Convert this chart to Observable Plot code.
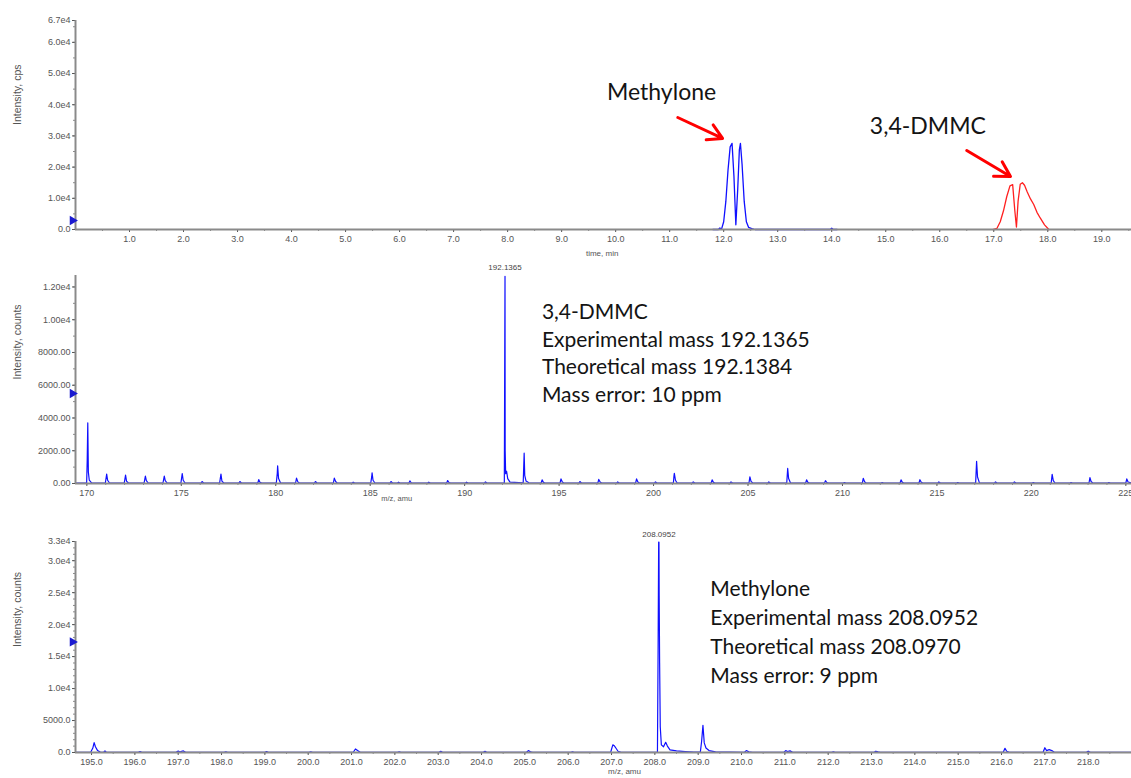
<!DOCTYPE html>
<html><head><meta charset="utf-8">
<script src="https://cdn.jsdelivr.net/npm/d3@7"></script>
<script src="https://cdn.jsdelivr.net/npm/@observablehq/plot@0.6"></script>
<style>
body{margin:0;background:#fff;}
#chart svg{display:block;}
</style></head><body><div id="chart"></div>
<script>
// ---------- Panel 1: extracted ion chromatogram ----------
const methyloneTime = [11.80, 11.90, 11.93, 11.96, 12.00, 12.04, 12.08, 12.12, 12.155, 12.19, 12.225, 12.26, 12.29, 12.31, 12.34, 12.38, 12.42, 12.46, 12.52, 12.58, 13.90, 13.97, 14.00, 14.03, 14.10];
const methyloneIntensity = [0, 0, 500, 100, 2500, 9000, 19000, 26500, 27600, 17000, 1500, 13000, 25500, 27600, 21000, 9000, 2500, 700, 300, 0, 0, 0, 400, 0, 0];
const dmmcTime = [16.98, 17.06, 17.12, 17.18, 17.24, 17.30, 17.35, 17.39, 17.42, 17.45, 17.49, 17.53, 17.57, 17.62, 17.68, 17.74, 17.80, 17.86, 17.94, 18.02];
const dmmcIntensity = [0, 400, 2500, 6000, 10500, 14000, 14400, 6000, 800, 9000, 14500, 15000, 14200, 12000, 9800, 8000, 5500, 3700, 1500, 0];
const timeTicks = [1,2,3,4,5,6,7,8,9,10,11,12,13,14,15,16,17,18,19];
const cpsTicks = [0, 10000, 20000, 30000, 40000, 50000, 60000, 67000];
const cpsTickLabels = ["0.0","1.0e4","2.0e4","3.0e4","4.0e4","5.0e4","6.0e4","6.7e4"];

// ---------- Panel 2: 3,4-DMMC mass spectrum (m/z, intensity) ----------
const dmmcSpectrum = [
[169.40,20],[169.99,20],[170.02,1400],[170.05,3700],[170.08,700],[170.13,200],[170.25,40],
[170.98,30],[171.05,570],[171.10,200],[171.20,30],
[171.98,30],[172.05,510],[172.10,150],[172.20,30],
[173.03,30],[173.10,450],[173.15,180],[173.25,30],
[174.03,30],[174.10,450],[174.15,180],[174.25,30],
[174.98,30],[175.05,610],[175.10,200],[175.20,30],
[176.05,30],[176.10,120],[176.18,30],
[177.03,30],[177.07,350],[177.10,570],[177.15,150],[177.25,30],
[178.05,30],[178.10,120],[178.18,30],
[179.05,30],[179.10,240],[179.15,90],[179.25,30],
[180.03,30],[180.08,600],[180.10,1080],[180.15,300],[180.25,40],
[181.05,30],[181.10,330],[181.17,100],[181.25,30],
[182.05,30],[182.10,120],[182.18,30],
[183.05,30],[183.10,330],[183.17,120],[183.25,30],
[184.05,30],[184.10,80],[184.18,30],
[185.03,30],[185.08,400],[185.10,650],[185.15,200],[185.25,30],
[186.05,30],[186.10,120],[186.18,30],
[186.45,30],[186.50,80],[186.57,30],
[187.05,30],[187.10,160],[187.18,30],
[188.05,30],[188.10,80],[188.18,30],
[189.05,30],[189.10,180],[189.17,60],[189.25,30],
[190.05,30],[190.10,80],[190.18,30],
[191.05,30],[191.10,100],[191.18,30],
[192.10,30],[192.125,8900],[192.1365,12650],[192.145,2000],[192.17,600],[192.22,750],[192.28,300],[192.40,80],
[193.10,40],[193.15,1850],[193.18,500],[193.25,150],[193.40,40],
[194.05,30],[194.10,220],[194.17,70],[194.25,30],
[195.05,30],[195.10,280],[195.17,90],[195.25,30],
[196.05,30],[196.10,120],[196.18,30],
[197.05,30],[197.10,250],[197.17,90],[197.25,30],
[198.05,30],[198.10,100],[198.18,30],
[199.05,30],[199.10,280],[199.17,90],[199.25,30],
[200.05,30],[200.10,100],[200.18,30],
[201.05,30],[201.08,450],[201.10,620],[201.16,200],[201.25,30],
[202.05,30],[202.10,100],[202.18,30],
[203.05,30],[203.10,220],[203.17,70],[203.25,30],
[204.05,30],[204.10,100],[204.18,30],
[205.05,30],[205.10,400],[205.16,130],[205.25,30],
[206.05,30],[206.10,100],[206.18,30],
[207.05,30],[207.10,920],[207.15,300],[207.25,30],
[208.05,30],[208.10,220],[208.17,70],[208.25,30],
[209.05,30],[209.10,170],[209.17,60],[209.25,30],
[210.05,30],[210.10,60],[210.18,30],
[211.05,30],[211.10,320],[211.17,110],[211.25,30],
[212.05,30],[212.10,60],[212.18,30],
[213.05,30],[213.10,220],[213.17,70],[213.25,30],
[214.05,30],[214.10,230],[214.17,80],[214.25,30],
[215.05,30],[215.10,100],[215.18,30],
[216.05,30],[216.10,60],[216.18,30],
[217.05,30],[217.10,1350],[217.15,400],[217.25,40],
[218.05,30],[218.10,100],[218.18,30],
[219.05,30],[219.10,100],[219.18,30],
[220.05,30],[220.10,60],[220.18,30],
[221.05,30],[221.10,560],[221.16,180],[221.25,30],
[222.05,30],[222.10,60],[222.18,30],
[223.05,30],[223.10,360],[223.16,120],[223.25,30],
[224.05,30],[224.10,60],[224.18,30],
[225.00,30],[225.05,280],[225.12,90],[225.30,30]
];
const mz1Ticks = [170,175,180,185,190,195,200,205,210,215,220,225];
const counts1Ticks = [0,2000,4000,6000,8000,10000,12000];
const counts1TickLabels = ["0.00","2000.00","4000.00","6000.00","8000.00","1.00e4","1.20e4"];

// ---------- Panel 3: Methylone mass spectrum (m/z, intensity) ----------
const methyloneSpectrum = [
[194.63,40],[194.98,40],[195.03,700],[195.06,1550],[195.09,900],[195.14,300],[195.20,60],[195.28,40],[195.31,250],[195.34,40],
[196.08,40],[196.12,150],[196.16,40],
[196.95,40],[197.00,220],[197.04,60],[197.08,200],[197.12,250],[197.17,40],
[198.06,40],[198.10,120],[198.14,40],
[199.00,40],[199.04,150],[199.08,40],
[200.02,40],[200.06,120],[200.10,40],
[201.04,40],[201.09,550],[201.14,300],[201.20,40],
[202.06,40],[202.10,120],[202.14,40],
[203.02,40],[203.06,180],[203.10,40],
[204.04,40],[204.08,180],[204.12,40],
[205.04,40],[205.08,300],[205.13,100],[205.18,40],
[206.06,40],[206.10,100],[206.14,40],
[206.98,40],[207.03,1200],[207.07,1000],[207.10,700],[207.15,200],[207.22,40],
[208.06,40],[208.075,16000],[208.088,32900],[208.0952,32900],[208.10,24500],[208.11,14000],[208.125,4000],[208.15,1200],[208.20,900],[208.25,1600],[208.29,1000],[208.35,400],[208.50,250],[208.70,150],[208.90,80],
[209.05,60],[209.08,1800],[209.11,4250],[209.14,1500],[209.18,700],[209.25,300],[209.40,100],
[210.07,40],[210.11,300],[210.17,100],[210.25,40],
[210.98,40],[211.02,300],[211.06,150],[211.12,250],[211.18,40],
[212.08,40],[212.12,120],[212.16,40],
[213.06,40],[213.10,200],[213.15,100],[213.20,40],
[216.04,40],[216.08,650],[216.12,200],[216.18,40],
[216.96,40],[217.00,750],[217.04,300],[217.10,450],[217.16,300],[217.22,40],
[217.96,40],[218.00,200],[218.05,40],[219.00,40]
];
const mz2Ticks = [195,196,197,198,199,200,201,202,203,204,205,206,207,208,209,210,211,212,213,214,215,216,217,218];
const counts2Ticks = [0,5000,10000,15000,20000,25000,30000,33000];
const counts2TickLabels = ["0.0","5000.0","1.0e4","1.5e4","2.0e4","2.5e4","3.0e4","3.3e4"];

// annotations
const dmmcInfo = ["3,4-DMMC","Experimental mass 192.1365","Theoretical mass 192.1384","Mass error: 10 ppm"];
const methyloneInfo = ["Methylone","Experimental mass 208.0952","Theoretical mass 208.0970","Mass error: 9 ppm"];
const cursorLevels = [2900, 5500, 17300];

const AXIS = "#8a8a8a", TXT = "#555", BLUE = "#1010ff";
const W = 1131;

function range(a, b, s) { const r = []; for (let v = a; v <= b + 1e-9; v += s) r.push(+v.toFixed(4)); return r; }

function axes(xDomain, xTicks, xFmt, xMinor, yTicks, yLabels, yMinor, yLabel, cursor) {
  const yMap = new Map(yTicks.map((v, i) => [v, yLabels[i]]));
  return [
    Plot.axisX(xMinor, {tickSize: 2, tickFormat: () => "", color: AXIS, label: null}),
    Plot.axisX(xTicks, {tickSize: 3, tickPadding: 3, tickFormat: xFmt, color: TXT, fontSize: 9, label: null}),
    Plot.axisY(yMinor, {tickSize: 2, tickFormat: () => "", color: AXIS, label: null}),
    Plot.axisY(yTicks, {tickSize: 3, tickPadding: 2, tickFormat: d => yMap.get(d), color: TXT, fontSize: 9, label: null}),
    Plot.ruleY([0], {stroke: AXIS, strokeWidth: 2}),
    Plot.ruleX([xDomain[0]], {stroke: AXIS, strokeWidth: 2}),
    Plot.text([yLabel], {frameAnchor: "left", dx: -58, rotate: -90, fontSize: 10.5, fill: TXT}),
    Plot.dot([cursor], {x: () => xDomain[0], y: d => d, symbol: "triangle", r: 3.5, rotate: 90, fill: "#1a1ad0", dx: -3})
  ];
}

const style = {fontFamily: "Liberation Sans, Arial, sans-serif", fontSize: "9px", background: "white", overflow: "visible"};
const annFont = "Lato, 'Open Sans', sans-serif";

// Panel 1
const xd1 = [0, 19.55];
const p1 = Plot.plot({
  width: W, height: 262, marginLeft: 75, marginRight: 0, marginTop: 20, marginBottom: 33, style,
  x: {domain: xd1}, y: {domain: [0, 67000]},
  marks: [
    Plot.line(methyloneTime.map((t, i) => ({t, v: methyloneIntensity[i]})), {x: "t", y: "v", stroke: BLUE, strokeWidth: 1.3}),
    Plot.line(dmmcTime.map((t, i) => ({t, v: dmmcIntensity[i]})), {x: "t", y: "v", stroke: "#ff2020", strokeWidth: 1.3}),
    ...axes(xd1, timeTicks, d => d.toFixed(1), range(0.5, 19.5, 0.5), cpsTicks, cpsTickLabels, range(0, 65000, 5000), "Intensity, cps", cursorLevels[0]),
    Plot.text(["time, min"], {x: 9.75, frameAnchor: "bottom", dy: 26, fontSize: 8, fill: TXT}),
    Plot.text(["Methylone"], {x: 10.85, y: 43900, fontSize: 23, fontFamily: annFont, fill: "#141414"}),
    Plot.text(["3,4-DMMC"], {x: 15.78, y: 33000, fontSize: 23, fontFamily: annFont, fill: "#141414"}),
    Plot.arrow([{x1: 11.15, y1: 35900, x2: 11.98, y2: 29200}, {x1: 16.50, y1: 25300, x2: 17.31, y2: 17000}],
      {x1: "x1", y1: "y1", x2: "x2", y2: "y2", stroke: "#ff0000", strokeWidth: 3, headLength: 11})
  ]
});

// Panel 2
const xd2 = [169.4, 225.3];
const p2 = Plot.plot({
  width: W, height: 247, marginLeft: 75, marginRight: 0, marginTop: 13, marginBottom: 26, style,
  x: {domain: xd2}, y: {domain: [0, 12700]},
  marks: [
    Plot.line(dmmcSpectrum, {x: d => d[0], y: d => d[1], stroke: BLUE, strokeWidth: 1.2}),
    ...axes(xd2, mz1Ticks, d => String(d), range(170, 225, 1), counts1Ticks, counts1TickLabels, range(0, 12000, 1000), "Intensity, counts", cursorLevels[1]),
    Plot.text(["m/z, amu"], {x: 186.4, frameAnchor: "bottom", dy: 17, fontSize: 7.5, fill: TXT}),
    Plot.text(["192.1365"], {x: 192.1365, y: 12650, dy: -9, fontSize: 8, fill: "#444"}),
    Plot.text([dmmcInfo.join("\n")], {x: 194.09, y: 11280, textAnchor: "start", lineAnchor: "top", fontSize: 21, lineHeight: 1.33, fontFamily: annFont, fill: "#141414"})
  ]
});

// Panel 3
const xd3 = [194.63, 219.0];
const p3 = Plot.plot({
  width: W, height: 269, marginLeft: 75, marginRight: 0, marginTop: 32, marginBottom: 26, style,
  x: {domain: xd3}, y: {domain: [0, 33000]},
  marks: [
    Plot.line(methyloneSpectrum, {x: d => d[0], y: d => d[1], stroke: BLUE, strokeWidth: 1.2}),
    ...axes(xd3, mz2Ticks, d => d.toFixed(1), range(195.5, 218.5, 0.5), counts2Ticks, counts2TickLabels, range(0, 33000, 1000), "Intensity, counts", cursorLevels[2]),
    Plot.text(["m/z, amu"], {x: 207.3, frameAnchor: "bottom", dy: 21, fontSize: 8, fill: TXT}),
    Plot.text(["208.0952"], {x: 208.0952, y: 32900, dy: -8, fontSize: 8, fill: "#444"}),
    Plot.text([methyloneInfo.join("\n")], {x: 209.28, y: 27650, textAnchor: "start", lineAnchor: "top", fontSize: 21, lineHeight: 1.38, fontFamily: annFont, fill: "#141414"})
  ]
});

const c = document.getElementById("chart");
c.append(p1, p2, p3);
</script></body></html>
